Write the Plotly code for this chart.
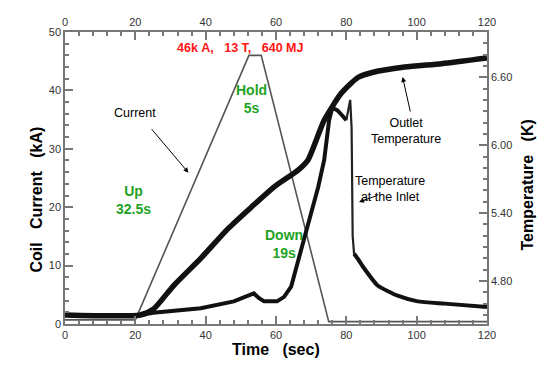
import plotly.graph_objects as go

# ---- data ----
cur_t = [0, 20, 52.3, 55.8, 75.0, 120]
cur_ka = [0.7, 0.7, 46.0, 46.0, 0.4, 0.4]

out_t = [0, 21.4, 25.1, 30.9, 38.6, 46.3, 52.9, 59.4, 66.3, 69.1, 73.7, 78.6, 83.4, 87.1, 96.6, 107.1, 120]
out_k = [4.50, 4.50, 4.55, 4.76, 5.00, 5.26, 5.45, 5.63, 5.78, 5.87, 6.22, 6.46, 6.60, 6.64, 6.69, 6.72, 6.77]

in_t = [0, 21.4, 25.1, 38.6, 48.0, 51.4, 53.7, 55.1, 56.6, 60.3, 62.3, 64.3, 66.3, 69.1, 72.0, 73.7,
        75.1, 76.0, 77.4, 78.9, 80.0, 80.6, 81.1, 81.5, 81.8, 82.2, 83.4, 85.1, 88.9, 94.6, 100.3, 108.0, 120]
in_k = [4.50, 4.50, 4.52, 4.56, 4.62, 4.66, 4.69, 4.65, 4.62, 4.62, 4.66, 4.75, 4.98, 5.28, 5.63, 5.87,
        6.22, 6.33, 6.31, 6.26, 6.22, 6.31, 6.40, 6.15, 5.20, 5.04, 4.99, 4.91, 4.76, 4.67, 4.62, 4.60, 4.57]

x_ticks = [0, 20, 40, 60, 80, 100, 120]
ka_ticks = [0, 10, 20, 30, 40, 50]
k_ticks = [4.80, 5.40, 6.00, 6.60]
k_tick_text = ["4.80", "5.40", "6.00", "6.60"]

NB = "\u00a0"
tickfont = dict(family="Liberation Sans, Arial", size=11, color="#333")
frame = "#777"

fig = go.Figure()
fig.add_trace(go.Scatter(x=cur_t, y=cur_ka, mode="lines",
                         line=dict(color="#555", width=1.6), showlegend=False))
fig.add_trace(go.Scatter(x=out_t, y=out_k, mode="lines", yaxis="y2",
                         line=dict(color="#111", width=5.5, shape="spline", smoothing=0.6), showlegend=False))
# inlet: thick main body, thin spike/drop, thick decay
i1, i2 = 21, 25
fig.add_trace(go.Scatter(x=in_t[:i1], y=in_k[:i1], mode="lines", yaxis="y2",
                         line=dict(color="#111", width=4), showlegend=False))
fig.add_trace(go.Scatter(x=in_t[i1 - 1:i2 + 1], y=in_k[i1 - 1:i2 + 1], mode="lines", yaxis="y2",
                         line=dict(color="#222", width=2.2), showlegend=False))
fig.add_trace(go.Scatter(x=in_t[i2:], y=in_k[i2:], mode="lines", yaxis="y2",
                         line=dict(color="#111", width=4, shape="spline", smoothing=0.5), showlegend=False))
# invisible trace to activate the top axis
fig.add_trace(go.Scatter(x=[0, 120], y=[0, 0], xaxis="x2", mode="lines",
                         line=dict(width=0), opacity=0, showlegend=False, hoverinfo="skip"))

ax_common = dict(showline=True, linecolor=frame, linewidth=1.5, ticks="inside", ticklen=8,
                 tickcolor=frame, tickwidth=1.5, showgrid=False, zeroline=False, tickfont=tickfont)

fig.update_layout(
    width=552, height=372,
    margin=dict(l=65, r=65, t=32, b=48),
    paper_bgcolor="white", plot_bgcolor="white",
    xaxis=dict(range=[0, 120], tickvals=x_ticks, minor=dict(dtick=4, ticklen=4, ticks="inside", tickcolor=frame),
               **ax_common),
    xaxis2=dict(range=[0, 120], overlaying="x", side="top", tickvals=x_ticks,
                minor=dict(dtick=4, ticklen=4, ticks="inside", tickcolor=frame), **ax_common),
    yaxis=dict(range=[0, 50], tickvals=ka_ticks, minor=dict(dtick=2, ticklen=4, ticks="inside", tickcolor=frame),
               **ax_common),
    yaxis2=dict(range=[4.42, 7.0], overlaying="y", side="right", tickvals=k_ticks, ticktext=k_tick_text,
                minor=dict(dtick=0.1, ticklen=4, ticks="inside", tickcolor=frame), **ax_common),
)

green = "#1fa31f"
red = "#ff1414"
bold = "Liberation Sans, Arial"

def txt(x, y, text, color="black", size=12, fam="Liberation Sans, Arial", weight="normal"):
    fig.add_annotation(x=x, y=y, xref="x", yref="y", text=text, showarrow=False,
                       font=dict(family=fam, size=size, color=color, weight=weight), align="center")

txt(50, 47.3, "46k" + NB + "A," + NB * 3 + "13" + NB + "T," + NB * 3 + "640" + NB + "MJ", red, 12.5, weight="bold")
txt(53.1, 38.5, "Hold<br>5s", green, 14, weight="bold")
txt(19.4, 21.2, "Up<br>32.5s", green, 14, weight="bold")
txt(62.3, 13.7, "Down<br>19s", green, 14, weight="bold")
txt(20, 36.1, "Current", "black", 12.5)
txt(96.9, 33.0, "Outlet<br>Temperature", "black", 12.5)
txt(92.3, 23.1, "Temperature<br>at the Inlet", "black", 12.5)

def arrow(x, y, ax, ay):
    fig.add_annotation(x=x, y=y, xref="x", yref="y", text="", showarrow=True, ax=ax, ay=ay,
                       arrowhead=2, arrowsize=1, arrowwidth=1, arrowcolor="black")

arrow(35.1, 25.9, -38, -45)
arrow(96.0, 42.3, 8, 36)
arrow(83.6, 20.9, 20, -7)

# axis titles
fig.add_annotation(x=-40 / 422, y=(324 - 200) / 292, xref="paper", yref="paper", showarrow=False,
                   text="Coil" + NB * 3 + "Current" + NB * 3 + "(kA)", textangle=-90,
                   font=dict(family=bold, size=16, color="black", weight="bold"))
fig.add_annotation(x=(537 - 65) / 422, y=(324 - 185) / 292, xref="paper", yref="paper", showarrow=False,
                   text="Temperature" + NB * 3 + "(K)", textangle=-90,
                   font=dict(family=bold, size=16, color="black", weight="bold"))
fig.add_annotation(x=(276 - 65) / 422, y=-(360 - 324) / 292, xref="paper", yref="paper", showarrow=False,
                   text="Time" + NB * 3 + "(sec)",
                   font=dict(family=bold, size=16, color="black", weight="bold"))

fig.write_html("out.html", config={"displayModeBar": False},
               post_script="document.body.style.margin='0';")
